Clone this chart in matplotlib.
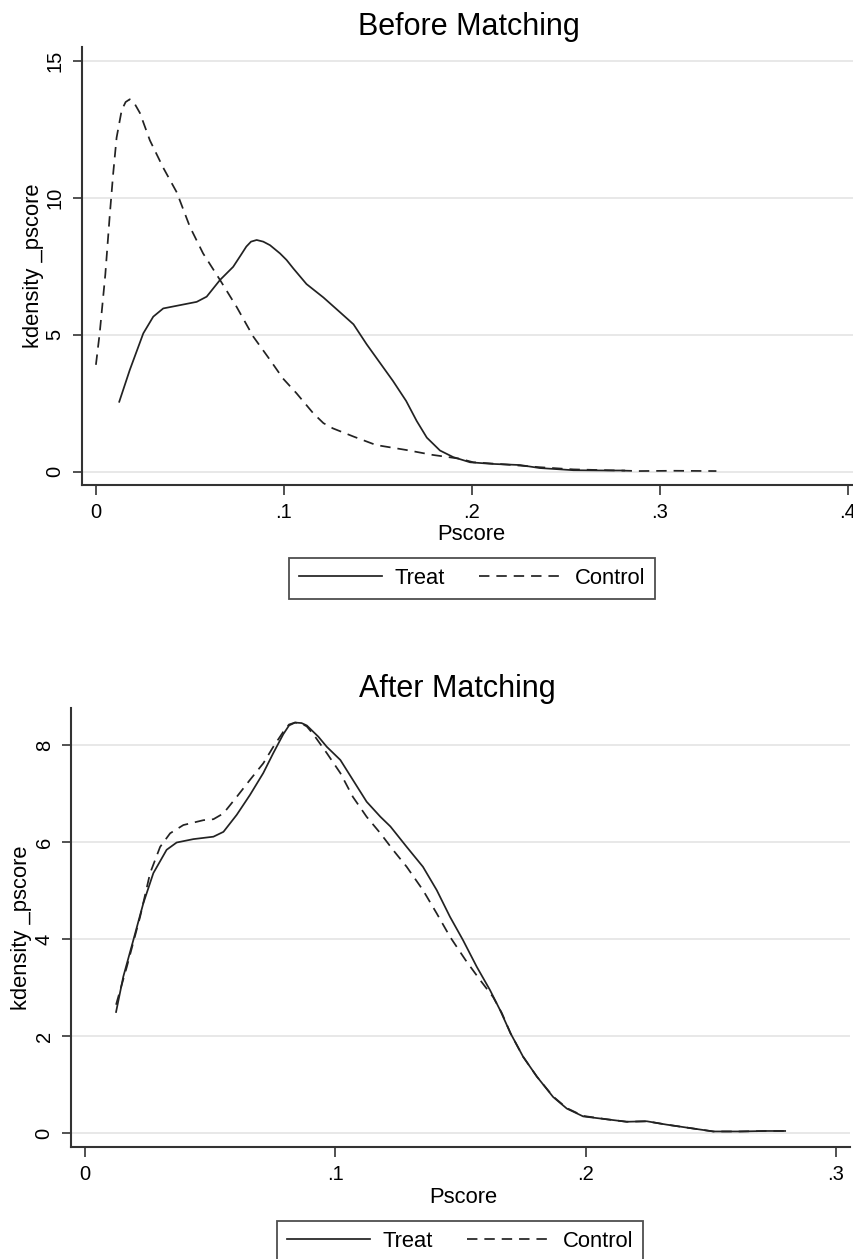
import matplotlib
matplotlib.use('Agg')
import matplotlib.pyplot as plt

plt.rcParams['font.family'] = ['Liberation Sans', 'DejaVu Sans']

# kernel density of pscore
before_treat_x = [0.0124, 0.018, 0.0252, 0.0305, 0.0358, 0.0447, 0.0536, 0.0589, 0.066,
                  0.073, 0.077, 0.080, 0.0825, 0.0855, 0.089, 0.0926, 0.0979, 0.1014,
                  0.105, 0.112, 0.121, 0.130, 0.137, 0.144, 0.151, 0.158, 0.165,
                  0.1706, 0.176, 0.183, 0.190, 0.199, 0.211, 0.2255, 0.236, 0.254,
                  0.272, 0.281]
before_treat_y = [2.55, 3.71, 5.05, 5.66, 5.96, 6.08, 6.2, 6.39, 7.0,
                  7.48, 7.9, 8.22, 8.4, 8.46, 8.4, 8.27, 7.97, 7.73,
                  7.42, 6.85, 6.36, 5.81, 5.38, 4.65, 3.98, 3.31, 2.58,
                  1.85, 1.24, 0.77, 0.53, 0.34, 0.28, 0.24, 0.13, 0.05,
                  0.04, 0.04]

before_ctrl_x = [0.0, 0.002, 0.005, 0.0074, 0.0092, 0.011, 0.0137, 0.0158, 0.018, 0.0205,
                 0.0234, 0.0287, 0.0358, 0.043, 0.05, 0.057, 0.066, 0.0748, 0.0837,
                 0.0926, 0.0995, 0.1067, 0.1156, 0.121, 0.126, 0.137, 0.149, 0.165,
                 0.179, 0.1936, 0.2007, 0.218, 0.236, 0.254, 0.272, 0.289, 0.307,
                 0.330]
before_ctrl_y = [3.9, 5.05, 7.2, 9.4, 10.9, 12.2, 13.2, 13.5, 13.6, 13.45,
                 13.1, 12.1, 11.1, 10.2, 8.94, 7.97, 7.0, 6.02, 4.93,
                 4.08, 3.4, 2.86, 2.13, 1.77, 1.58, 1.28, 0.97, 0.79,
                 0.61, 0.47, 0.34, 0.26, 0.16, 0.08, 0.05, 0.02, 0.03,
                 0.02]

after_treat_x = [0.0124, 0.0153, 0.0193, 0.0233, 0.0273, 0.0326, 0.0366, 0.0433, 0.0513,
                 0.0553, 0.0606, 0.0659, 0.0712, 0.0752, 0.0792, 0.0815, 0.0839, 0.0865,
                 0.0886, 0.0932, 0.0966, 0.102, 0.107, 0.1125, 0.118, 0.122, 0.1285,
                 0.135, 0.1405, 0.1458, 0.151, 0.1565, 0.1618, 0.1658, 0.170, 0.175,
                 0.1805, 0.187, 0.1925, 0.199, 0.2085, 0.2164, 0.2244, 0.2324, 0.2417,
                 0.251, 0.2617, 0.2723, 0.2797]
after_treat_y = [2.5, 3.23, 3.98, 4.74, 5.36, 5.84, 5.99, 6.06, 6.11,
                 6.21, 6.56, 6.97, 7.42, 7.83, 8.22, 8.4, 8.46, 8.45,
                 8.4, 8.17, 7.96, 7.69, 7.28, 6.83, 6.52, 6.32, 5.9,
                 5.49, 5.01, 4.46, 3.98, 3.43, 2.95, 2.54, 2.06, 1.58,
                 1.17, 0.75, 0.51, 0.35, 0.29, 0.24, 0.25, 0.18, 0.11,
                 0.04, 0.04, 0.05, 0.05]

after_ctrl_x = [0.0124, 0.0167, 0.022, 0.026, 0.030, 0.034, 0.0393, 0.0473, 0.0513,
                0.0553, 0.0606, 0.0659, 0.0712, 0.0752, 0.0792, 0.0815, 0.0839, 0.0865,
                0.0886, 0.0912, 0.0966, 0.102, 0.107, 0.1125, 0.118, 0.123, 0.1285,
                0.135, 0.1405, 0.1458, 0.152, 0.1578, 0.163, 0.1665, 0.170, 0.175,
                0.1805, 0.187, 0.1925, 0.199, 0.2085, 0.2164, 0.2244, 0.2324, 0.2417,
                0.251, 0.2617, 0.2723, 0.2797]
after_ctrl_y = [2.65, 3.43, 4.46, 5.36, 5.9, 6.18, 6.35, 6.45, 6.47,
                6.59, 6.93, 7.28, 7.62, 7.96, 8.27, 8.42, 8.46, 8.44,
                8.38, 8.22, 7.83, 7.42, 6.93, 6.52, 6.18, 5.84, 5.49,
                5.01, 4.53, 4.05, 3.57, 3.16, 2.81, 2.48, 2.06, 1.58,
                1.17, 0.76, 0.52, 0.36, 0.29, 0.24, 0.25, 0.18, 0.11,
                0.04, 0.04, 0.05, 0.05]

panels = [
    dict(title='Before Matching', tx=before_treat_x, ty=before_treat_y,
         cx=before_ctrl_x, cy=before_ctrl_y,
         xticks=[0, 0.1, 0.2, 0.3, 0.4], xlabels=['0', '.1', '.2', '.3', '.4'],
         yticks=[0, 5, 10, 15], xlim=(-0.0074, 0.4032), ylim=(-0.49, 15.51),
         rect=[0.09602, 0.61477, 0.9040, 0.34790],
         title_xy=(468.5 / 854, 1 - 35 / 1259), leg_x=472, leg_top=558),
    dict(title='After Matching', tx=after_treat_x, ty=after_treat_y,
         cx=after_ctrl_x, cy=after_ctrl_y,
         xticks=[0, 0.1, 0.2, 0.3], xlabels=['0', '.1', '.2', '.3'],
         yticks=[0, 2, 4, 6, 8], xlim=(-0.0056, 0.3056), ylim=(-0.28, 8.76),
         rect=[0.08314, 0.08896, 0.91218, 0.34869],
         title_xy=(457.5 / 854, 1 - 697 / 1259), leg_x=460, leg_top=1221),
]

fig = plt.figure(figsize=(8.54, 12.59), dpi=100)
axis_col = '#333333'

for p in panels:
    ax = fig.add_axes(p['rect'])
    ax.plot(p['tx'], p['ty'], color='#222222', lw=1.25, label='Treat')
    ax.plot(p['cx'], p['cy'], color='#222222', lw=1.25, ls=(0, (6, 4)), label='Control')
    ax.set_xlim(*p['xlim'])
    ax.set_ylim(*p['ylim'])
    ax.set_xticks(p['xticks'])
    ax.set_xticklabels(p['xlabels'])
    ax.set_yticks(p['yticks'])
    ax.yaxis.grid(True, color='#e6e6e6', lw=1.3)
    ax.set_axisbelow(True)
    for s in ['top', 'right']:
        ax.spines[s].set_visible(False)
    for s in ['left', 'bottom']:
        ax.spines[s].set_color(axis_col)
        ax.spines[s].set_linewidth(1.5)
    ax.tick_params(axis='x', length=7, width=1.2, color=axis_col, pad=6, labelsize=14.5)
    ax.tick_params(axis='y', length=6.5, width=1.2, color=axis_col, pad=6, labelsize=14.5,
                   labelrotation=90)
    for lbl in ax.get_yticklabels():
        lbl.set_va('center')
    ax.set_xlabel('Pscore', fontsize=15.8, va='baseline')
    ax.xaxis.set_label_coords(0.504, -0.1266)
    ax.set_ylabel('kdensity _pscore', fontsize=15.8, va='center')
    ax.yaxis.set_label_coords(-0.063, 0.5)
    fig.text(p['title_xy'][0], p['title_xy'][1], p['title'], fontsize=22,
             ha='center', va='baseline')
    leg = ax.legend(loc='upper center', ncol=2, fontsize=15.8, frameon=True,
                    fancybox=False, edgecolor='#222222', handlelength=3.8,
                    handletextpad=0.55, columnspacing=1.6, borderpad=0.45,
                    borderaxespad=0,
                    bbox_to_anchor=(p['leg_x'] / 854, 1 - p['leg_top'] / 1259),
                    bbox_transform=fig.transFigure)
    leg.get_frame().set_linewidth(1.3)

fig.savefig('out.png', dpi=100)
